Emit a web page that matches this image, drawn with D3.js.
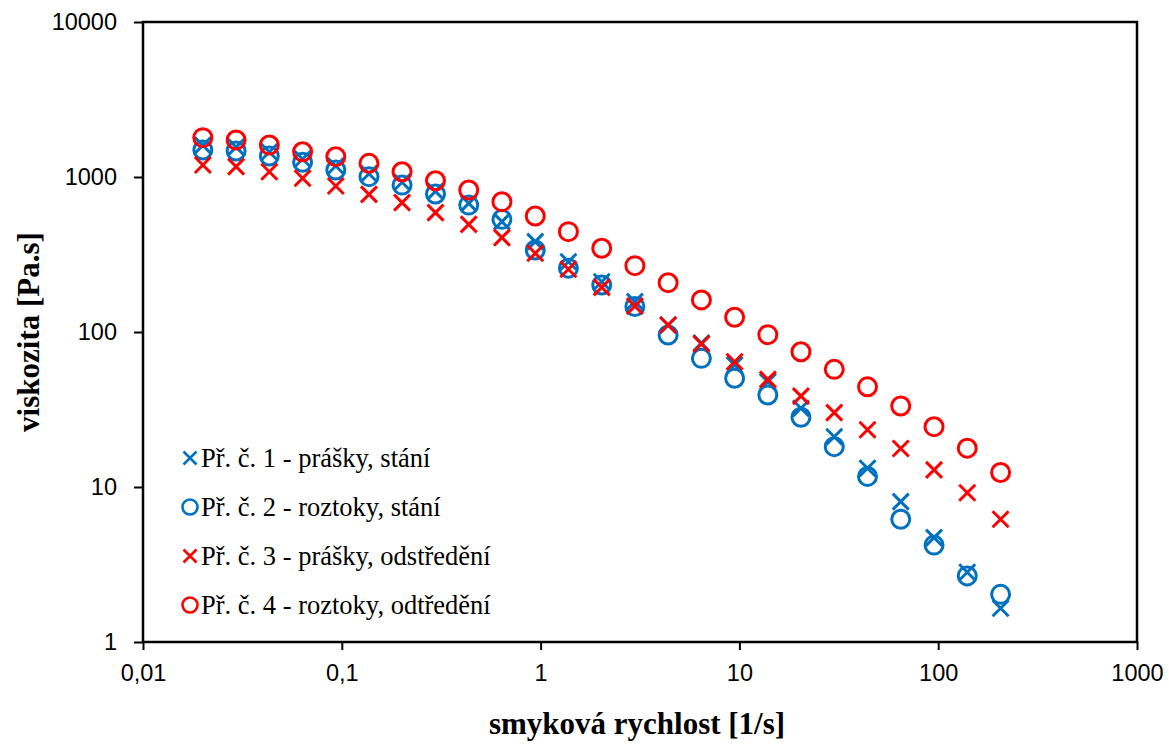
<!DOCTYPE html>
<meta charset="utf-8">
<style>
  body { margin: 0; background: #fff; }
  .tick text { font-family: "Liberation Sans", Arial, sans-serif; font-size: 23.5px; fill: #000; }
  .axis-title { font-family: "Liberation Serif", "Times New Roman", serif; font-weight: bold; font-size: 31px; }
  .legend text { font-family: "Liberation Serif", "Times New Roman", serif; font-size: 26.5px; }
</style>
<body>
<script src="https://d3js.org/d3.v7.min.js"></script>
<script>
  // shear rate [1/s]
  var shearRate = [0.02, 0.0294, 0.0432, 0.0635, 0.0933, 0.137, 0.201, 0.296, 0.435, 0.639,
    0.94, 1.38, 2.03, 2.98, 4.38, 6.44, 9.46, 13.9, 20.4, 30.0, 44.1, 64.8, 95.3, 140, 206];

  // viscosity [Pa.s]
  var vzorek1 = [1600, 1560, 1450, 1306, 1178, 1050, 925, 808, 676, 515,
    383, 284, 211, 157, 111, 85, 61.2, 47.8, 32.2, 21.1, 13.2, 8.04, 4.71, 2.82, 1.65];
  var vzorek2 = [1493, 1472, 1366, 1245, 1110, 1005, 887, 777, 659, 533,
    338, 258, 201, 146, 95.6, 67.6, 50.3, 39.2, 28.2, 18.2, 11.7, 6.19, 4.22, 2.67, 2.03];
  var vzorek3 = [1195, 1166, 1081, 981, 875, 773, 683, 589, 495, 406,
    322, 254, 194, 147, 111, 83.7, 64.3, 49.5, 38.6, 30.2, 23.4, 17.7, 12.9, 9.19, 6.19];
  var vzorek4 = [1794, 1733, 1608, 1456, 1352, 1225, 1081, 946, 824, 693,
    560, 444, 347, 268, 208, 161, 124.5, 96.1, 74.6, 57.4, 44.3, 33.3, 24.5, 17.8, 12.4];

  var seriesNames = ["Př. č. 1 - prášky, stání", "Př. č. 2 - roztoky, stání",
    "Př. č. 3 - prášky, odstředění", "Př. č. 4 - roztoky, odtředění"];

  var xTicks = [0.01, 0.1, 1, 10, 100, 1000];
  var xTickLabels = ["0,01", "0,1", "1", "10", "100", "1000"];
  var yTicks = [1, 10, 100, 1000, 10000];
  var yTickLabels = ["1", "10", "100", "1000", "10000"];

  var series = [
    { name: seriesNames[0], values: vzorek1, shape: "x", color: "#0070C0" },
    { name: seriesNames[1], values: vzorek2, shape: "o", color: "#0070C0" },
    { name: seriesNames[2], values: vzorek3, shape: "x", color: "#FF0000" },
    { name: seriesNames[3], values: vzorek4, shape: "o", color: "#FF0000" }
  ];

  var margin = { top: 22, right: 32, bottom: 106, left: 143 },
    width = 1169 - margin.left - margin.right,
    height = 748 - margin.top - margin.bottom;

  var svg = d3.select("body").append("svg")
    .attr("width", 1169)
    .attr("height", 748)
    .append("g")
    .attr("transform", "translate(" + margin.left + "," + margin.top + ")");

  var x = d3.scaleLog().domain([0.01, 1000]).range([0, width]);
  var y = d3.scaleLog().domain([1, 10000]).range([height, 0]);

  // frame
  svg.append("rect")
    .attr("width", width).attr("height", height)
    .attr("fill", "none").attr("stroke", "#000").attr("stroke-width", 2.5);

  var xAxis = svg.append("g")
    .attr("transform", "translate(0," + height + ")")
    .call(d3.axisBottom(x).tickValues(xTicks).tickSize(8).tickPadding(14)
      .tickFormat(function (d, i) { return xTickLabels[i]; }));
  xAxis.select(".domain").remove();
  xAxis.selectAll("line").attr("stroke-width", 2);

  var yAxis = svg.append("g")
    .call(d3.axisLeft(y).tickValues(yTicks).tickSize(9).tickPadding(17)
      .tickFormat(function (d, i) { return yTickLabels[i]; }));
  yAxis.select(".domain").remove();
  yAxis.selectAll("line").attr("stroke-width", 2);

  // axis titles
  svg.append("text")
    .attr("class", "axis-title")
    .attr("text-anchor", "middle")
    .attr("x", width / 2 - 3)
    .attr("y", 712)
    .text("smyková rychlost [1/s]");

  svg.append("text")
    .attr("class", "axis-title")
    .attr("text-anchor", "middle")
    .attr("transform", "rotate(-90)")
    .attr("x", -height / 2)
    .attr("y", -104)
    .text("viskozita [Pa.s]");

  function drawMarker(g, shape, color, size, sw) {
    if (shape == "x") {
      g.append("path")
        .attr("d", "M" + -size + "," + -size + "L" + size + "," + size +
          "M" + -size + "," + size + "L" + size + "," + -size)
        .attr("stroke", color).attr("stroke-width", sw).attr("fill", "none");
    } else {
      g.append("circle")
        .attr("r", size + 1)
        .attr("stroke", color).attr("stroke-width", sw).attr("fill", "none");
    }
  }

  // points
  series.forEach(function (s) {
    svg.append("g")
      .selectAll("g")
      .data(s.values)
      .enter()
      .append("g")
      .attr("transform", function (d, i) { return "translate(" + x(shearRate[i]) + "," + y(d) + ")"; })
      .each(function () { drawMarker(d3.select(this), s.shape, s.color, 8, 3); });
  });

  // legend
  var legend = svg.append("g").attr("class", "legend");
  series.forEach(function (s, i) {
    var row = legend.append("g").attr("transform", "translate(47," + (436 + i * 49) + ")");
    drawMarker(row, s.shape, s.color, 6.5, 2.6);
    row.append("text").attr("x", 11).attr("y", 9).text(s.name);
  });
</script>
</body>
